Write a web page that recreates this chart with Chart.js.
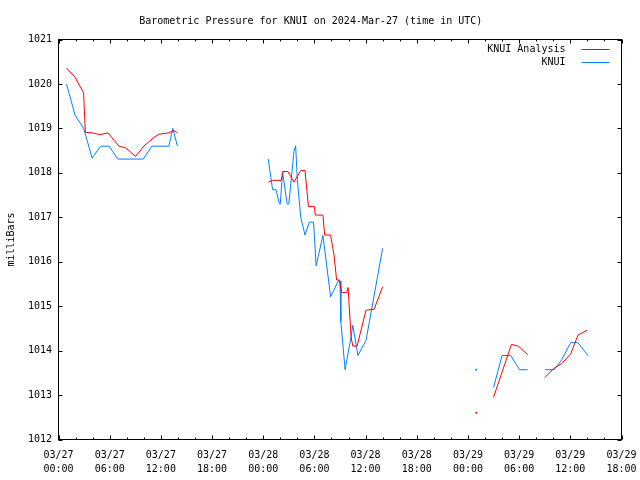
<!DOCTYPE html>
<html><head><meta charset="utf-8">
<script src="https://cdn.jsdelivr.net/npm/chart.js@4"></script>
<style>html,body{margin:0;padding:0;background:#fff}#wrap{width:640px;height:480px}</style>
</head><body><div id="wrap"><canvas id="c" width="640" height="480"></canvas></div>
<script>
const chartTitle = 'Barometric Pressure for KNUI on 2024-Mar-27 (time in UTC)';
const yAxisTitle = 'milliBars';
const xTickLabels = ['03/27 00:00','03/27 06:00','03/27 12:00','03/27 18:00','03/28 00:00','03/28 06:00','03/28 12:00','03/28 18:00','03/29 00:00','03/29 06:00','03/29 12:00','03/29 18:00'];
const seriesLabels = ['KNUI Analysis', 'KNUI'];

// hours since 03/27 00:00 UTC; null value = gap
const analysisHours = [0.94,1.94,2.94,3.15,3.94,4.85,5.8,7.08,7.87,9.04,10.0,11.2,11.8,12.96,13.5,13.94,14.5,
  24.6,25.1,26.1,26.3,26.9,27.6,28.4,28.9,29.3,30.0,30.1,31.0,31.2,31.9,32.3,32.6,32.9,33.2,33.8,33.95,34.3,34.5,35.0,36.05,37.0,38.0,40,
  48.97,50,
  51.0,53.1,53.9,55.0,56,
  57.0,58.0,59.0,60.05,60.9,62.0];
const analysisValues = [1020.36,1020.15,1019.8,1018.91,1018.9,1018.86,1018.9,1018.6,1018.56,1018.37,1018.6,1018.8,1018.87,1018.9,1018.95,1018.9,null,
  1017.79,1017.83,1017.83,1018.03,1018.03,1017.79,1018.05,1018.05,1017.24,1017.24,1017.05,1017.05,1016.6,1016.6,1016.15,1015.59,1015.59,1015.31,1015.31,1015.42,1014.31,1014.1,1014.1,1014.91,1014.93,1015.44,null,
  1012.6,null,
  1012.95,1014.14,1014.1,1013.91,null,
  1013.39,1013.59,1013.71,1013.93,1014.35,1014.46];

const obsHours = [0.94,1.94,2.94,3.1,3.94,4.94,5.94,6.94,9.94,10.94,12.94,13.4,13.94,14.5,
  24.58,25.1,25.5,25.9,26.0,26.27,26.8,27.0,27.6,27.8,28.0,28.4,28.9,29.4,29.9,30.2,31.0,31.9,32.8,33.0,33.1,33.6,34.3,34.5,35.1,36.05,38.0,40,
  48.97,50,
  51.0,52.0,53.0,54.06,55.0,56,
  57.0,58.1,58.95,60.05,60.9,62.1];
const obsValues = [1020.0,1019.3,1019.0,1018.9,1018.33,1018.6,1018.6,1018.31,1018.31,1018.6,1018.6,1019.0,1018.6,null,
  1018.31,1017.62,1017.62,1017.3,1017.3,1018.02,1017.3,1017.3,1018.48,1018.61,1017.84,1017.0,1016.6,1016.89,1016.89,1015.91,1016.59,1015.21,1015.57,1015.57,1014.65,1013.57,1014.31,1014.57,1013.89,1014.23,1016.3,null,
  1013.57,null,
  1013.17,1013.89,1013.89,1013.57,1013.57,null,
  1013.57,1013.57,1013.78,1014.18,1014.18,1013.88];

const FONT = '"DejaVu Sans Mono", monospace';
const toPts = (hs, vs) => hs.map((h, i) => ({x: h, y: vs[i]}));
const isolatedRadius = (ctx) => {
  const d = ctx.dataset.data, i = ctx.dataIndex;
  if (!d[i] || d[i].y == null) return 0;
  const prev = d[i-1], next = d[i+1];
  return ((!prev || prev.y == null) && (!next || next.y == null)) ? 1 : 0;
};

const frame = {
  id: 'frame',
  afterDraw(chart) {
    const {ctx, chartArea: a, scales: {x, y}} = chart;
    ctx.save();
    ctx.strokeStyle = '#000'; ctx.lineWidth = 1;
    ctx.strokeRect(a.left, a.top, a.right - a.left, a.bottom - a.top);
    ctx.beginPath();
    for (let h = x.min; h <= x.max + 1e-9; h += 2) {
      const px = Math.round(x.getPixelForValue(h)) + 0.5;
      const len = (Math.round(h) % 6 === 0) ? 4 : 2;
      ctx.moveTo(px, a.bottom); ctx.lineTo(px, a.bottom - len);
      ctx.moveTo(px, a.top); ctx.lineTo(px, a.top + len);
    }
    for (let v = y.min; v <= y.max + 1e-9; v += 1) {
      const py = Math.round(y.getPixelForValue(v)) + 0.5;
      ctx.moveTo(a.left, py); ctx.lineTo(a.left + 4, py);
      ctx.moveTo(a.right, py); ctx.lineTo(a.right - 4, py);
    }
    ctx.stroke();
    // key
    ctx.font = '10px ' + FONT;
    ctx.textAlign = 'right'; ctx.textBaseline = 'middle'; ctx.fillStyle = '#000';
    chart.data.datasets.forEach((ds, i) => {
      const yy = a.top + 10 + i * 13;
      ctx.fillText(ds.label, a.right - 56, yy);
      ctx.strokeStyle = ds.borderColor;
      ctx.beginPath(); ctx.moveTo(a.right - 40, yy); ctx.lineTo(a.right - 12, yy); ctx.stroke();
    });
    ctx.restore();
  }
};

new Chart(document.getElementById('c'), {
  type: 'line',
  data: {
    datasets: [
      {label: seriesLabels[0], data: toPts(analysisHours, analysisValues), borderColor: '#ff0000', backgroundColor: '#ff0000', borderWidth: 1, pointRadius: isolatedRadius, pointBorderWidth: 0, pointHoverRadius: 0, spanGaps: false, tension: 0},
      {label: seriesLabels[1], data: toPts(obsHours, obsValues), borderColor: '#0080ff', backgroundColor: '#0080ff', borderWidth: 1, pointRadius: isolatedRadius, pointBorderWidth: 0, pointHoverRadius: 0, spanGaps: false, tension: 0}
    ]
  },
  options: {
    responsive: false,
    animation: false,
    layout: {padding: {top: 0, right: 18.5, bottom: 0, left: 0}},
    plugins: {
      legend: {display: false},
      tooltip: {enabled: false},
      title: {display: true, text: chartTitle, color: '#000', font: {family: FONT, size: 10, weight: 'normal'}, padding: {top: 15, bottom: 12.5}}
    },
    scales: {
      x: {
        type: 'linear', min: 0, max: 66,
        grid: {display: false, drawTicks: false, tickLength: 0}, border: {display: false},
        afterFit: (s) => { s.height = 40.5; s.paddingLeft = 0; s.paddingRight = 0; },
        ticks: {
          stepSize: 6, autoSkip: false, maxRotation: 0, color: '#000', padding: 8.5,
          font: {family: FONT, size: 10, lineHeight: 1.4},
          callback: (v) => { const l = xTickLabels[Math.round(v / 6)]; return l ? l.split(' ') : ''; }
        }
      },
      y: {
        min: 1012, max: 1021,
        grid: {display: false, drawTicks: false, tickLength: 0}, border: {display: false},
        afterFit: (s) => { s.width = 58.5; s.paddingTop = 0; s.paddingBottom = 0; },
        title: {display: true, text: yAxisTitle, color: '#000', font: {family: FONT, size: 10}, padding: {top: 5, bottom: 0}},
        ticks: {stepSize: 1, color: '#000', padding: 6.5, font: {family: FONT, size: 10}, callback: (v) => String(v)}
      }
    }
  },
  plugins: [frame]
});
</script></body></html>
